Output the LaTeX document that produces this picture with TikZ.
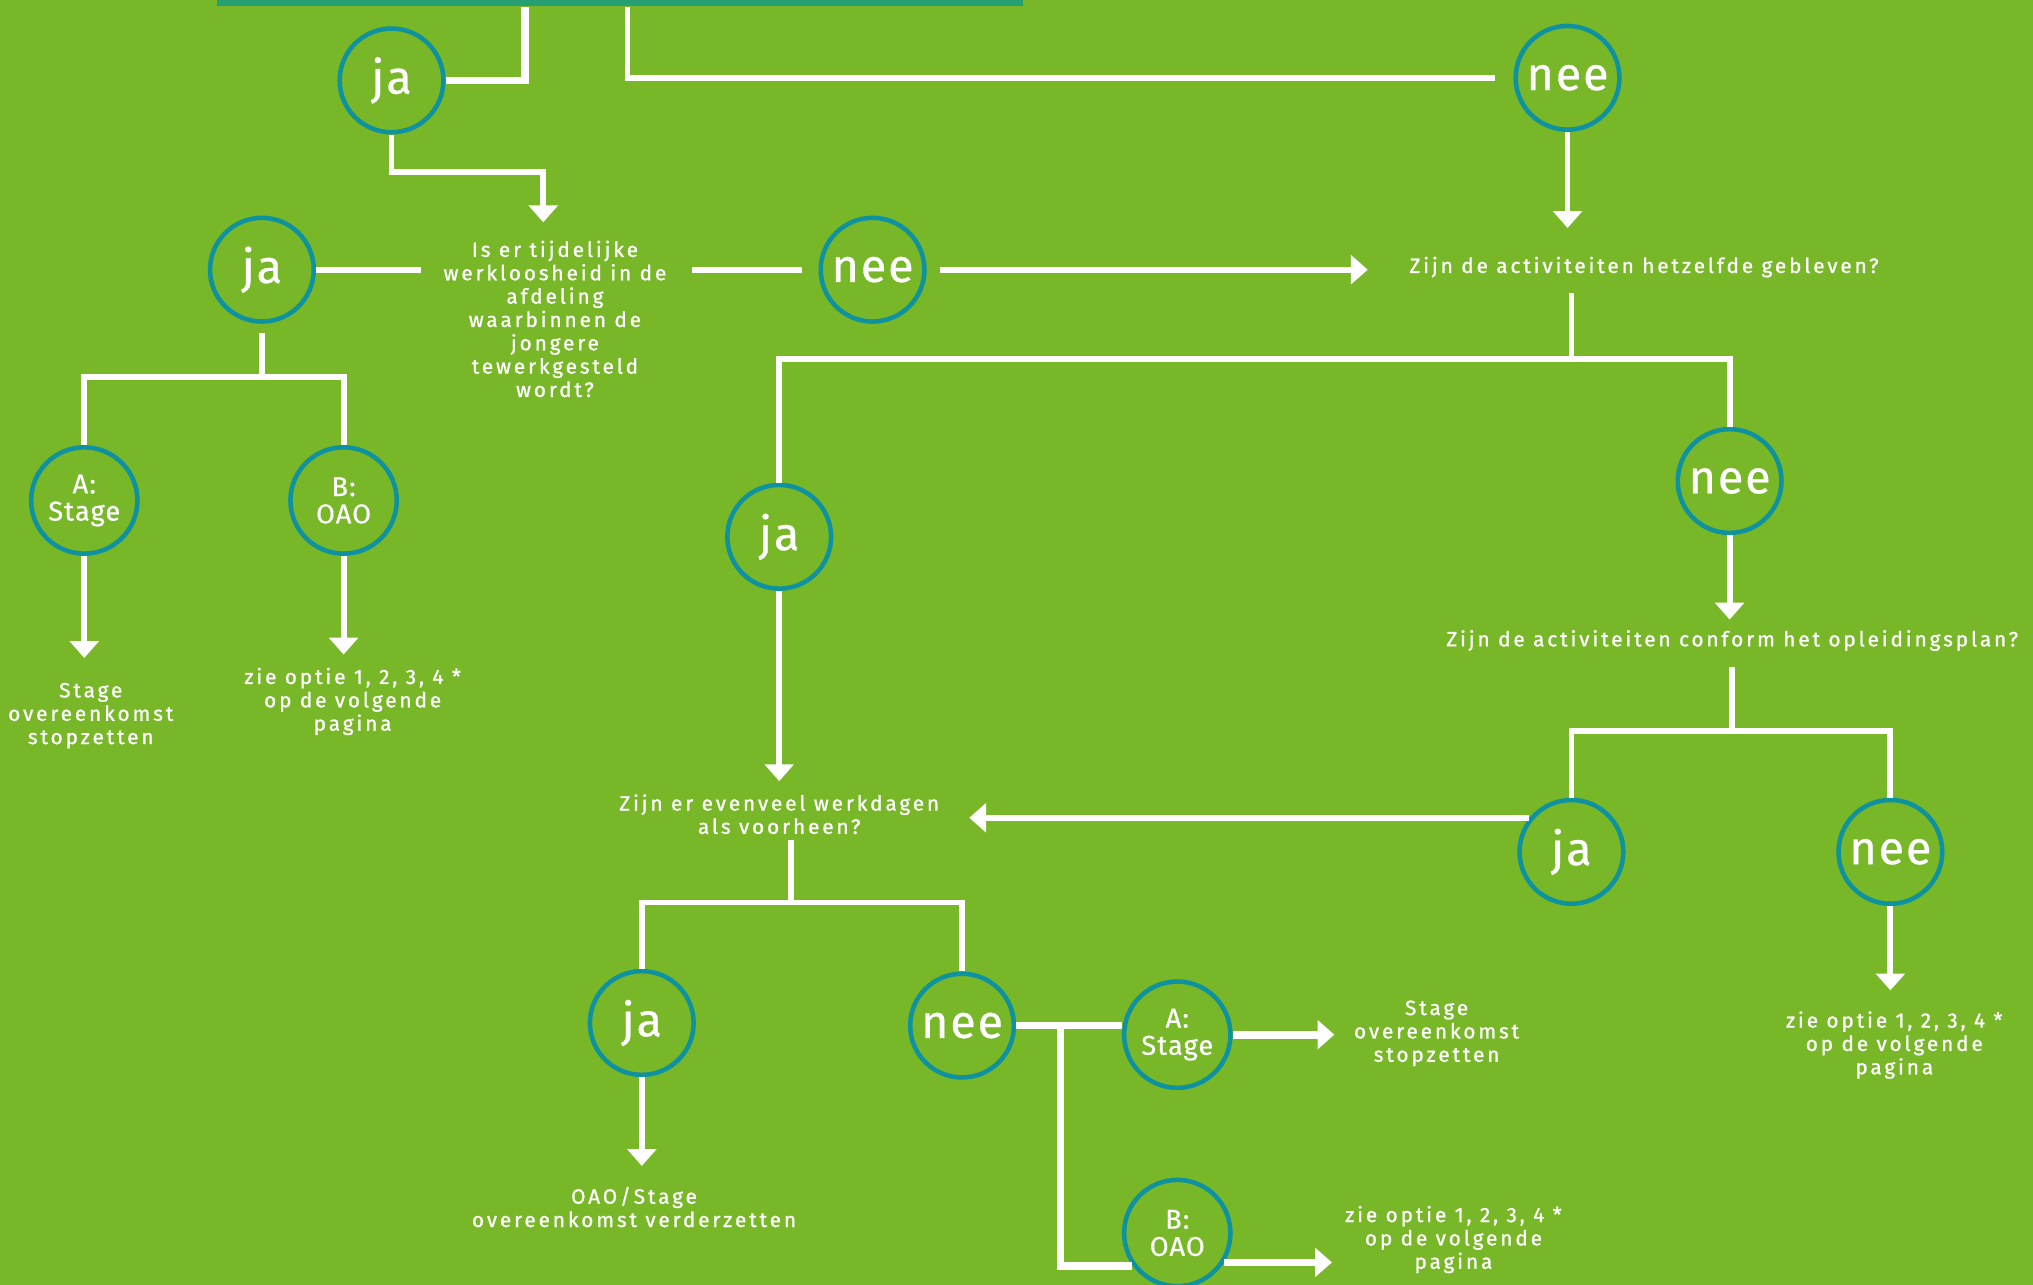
\documentclass[tikz,border=0pt]{standalone}
\usepackage{fontspec}
\setmainfont{Fira Sans}
\newfontfamily\qfont{Fira Sans}[LetterSpace=14,FakeBold=1]
\newfontfamily\cfont{Fira Sans}[LetterSpace=4,FakeBold=0.6]
\usepackage{tikz}
\usetikzlibrary{arrows.meta}
\definecolor{bggreen}{RGB}{120,183,40}
\definecolor{ringteal}{RGB}{14,146,160}
\definecolor{barteal}{RGB}{38,160,115}
\tikzset{answer/.style={circle,draw=ringteal,line width=3.5pt,minimum size=80pt,inner sep=0pt,
        text=white,font=\cfont\fontsize{36}{36}\selectfont},
    option/.style={answer,minimum size=82pt,align=center,font=\cfont\fontsize{21}{21}\selectfont},
    question/.style={text=white,align=center,inner sep=0pt,font=\qfont\fontsize{16}{18}\selectfont},
    link/.style={draw=white,line width=4.5pt},
    thick link/.style={link,line width=6pt},
    arrow/.style={link,-{Triangle[width=22pt,length=13pt]}}}

\begin{document}
\begin{tikzpicture}[x=1pt,y=-1pt]
\fill[bggreen] (0,0) rectangle (1568,991);
\useasboundingbox (0,0) rectangle (1568,991);
\node[fill=barteal,minimum width=622pt,minimum height=6pt,inner sep=0pt] (bar) at (478,2) {};

% answers
\node[answer] (ja1) at (302,62) {ja};
\node[answer] (nee1) at (1209,60) {nee};
\node[answer] (ja2) at (202,208) {ja};
\node[answer] (nee2) at (673,208) {nee};
\node[option] (a1) at (65,386) {A:\\Stage};
\node[option] (b1) at (265,386) {B:\\OAO};
\node[answer] (ja3) at (601,414) {ja};
\node[answer] (nee3) at (1334,371) {nee};
\node[answer] (ja4) at (1212,657) {ja};
\node[answer] (nee4) at (1458,657) {nee};
\node[answer] (ja5) at (495,789) {ja};
\node[answer] (nee5) at (742,791) {nee};
\node[option] (a2) at (908,798) {A:\\Stage};
\node[option] (b2) at (908,951) {B:\\OAO};

% questions and outcomes
\node[question] (q1) at (428,246) {Is er tijdelijke\\werkloosheid in de\\afdeling\\waarbinnen de\\jongere\\tewerkgesteld\\wordt?};
\node[question] (q2) at (1268,206) {Zijn de activiteiten hetzelfde gebleven?};
\node[question] (q3) at (601,628) {Zijn er evenveel werkdagen\\als voorheen?};
\node[question] (q4) at (1336,494) {Zijn de activiteiten conform het opleidingsplan?};
\node[question] (t1) at (70,552) {Stage\\overeenkomst\\stopzetten};
\node[question] (t2) at (272,541) {zie optie 1, 2, 3, 4 *\\op de volgende\\pagina};
\node[question] (t3) at (1461,806) {zie optie 1, 2, 3, 4 *\\op de volgende\\pagina};
\node[question] (t4) at (489,931) {OAO/Stage\\overeenkomst verderzetten};
\node[question] (t5) at (1108,797) {Stage\\overeenkomst\\stopzetten};
\node[question] (t6) at (1121,956) {zie optie 1, 2, 3, 4 *\\op de volgende\\pagina};

\coordinate (s1) at (205,291);
\coordinate (s2) at (1212,277);
\coordinate (s3) at (610,696);
\coordinate (s4) at (1336,564);
\coordinate (s5) at (818,793);

\draw[thick link] (ja1.east) -| ([xshift=-73pt]bar.south);
\draw[link,shorten >=14pt] ([xshift=6pt]bar.south) |- (nee1.west);
\draw[arrow,shorten >=14pt] (ja1.south) -- ++(0,29) -| ([xshift=-9pt]q1.north);
\draw[link,shorten >=17pt] (ja2.east) -- (ja2.east -| q1.west);
\draw[link,shorten <=20pt,shorten >=13pt] (nee2.west -| q1.east) -- (nee2.west);
\draw[arrow,shorten <=10pt,shorten >=32pt] (nee2.east) -- (nee2.east -| q2.west);
\draw[arrow,shorten >=22pt] (nee1.south) -- (nee1.south |- q2.north);

\draw[link] ([yshift=-7pt]ja2.south) -- (ja2.south |- s1);
\draw[link] (a1.north) |- (s1) -| (b1.north);
\draw[arrow,shorten >=19pt] (a1.south) -- (a1.south |- t1.north);
\draw[arrow,shorten >=10pt] (b1.south) -- (b1.south |- t2.north);

\draw[link] ([yshift=-12pt]q2.south -| s2) -- (s2);
\draw[link] (ja3.north) |- (s2) -| (nee3.north);
\draw[arrow,shorten >=10pt] (ja3.south) -- (ja3.south |- q3.north);
\draw[arrow,shorten >=8pt] (nee3.south) -- (nee3.south |- q4.north);

\draw[link] ([yshift=-12pt]q4.south) -- (s4);
\draw[link] (ja4.north) |- (s4) -| (nee4.north);
\draw[arrow,shorten >=23pt] (ja4.141) -- (ja4.141 -| q3.east);
\draw[arrow,shorten >=16pt] (nee4.south) -- (nee4.south |- t3.north);

\draw[link] ([yshift=-4pt]q3.south -| s3) -- (s3);
\draw[link] (ja5.north) |- (s3) -| (nee5.north);
\draw[arrow,shorten >=16pt] (ja5.south) -- (ja5.south |- t4.north);
\draw[thick link] (nee5.east) -- (nee5.east -| a2.west);
\draw[thick link] (nee5.east -| s5) |- (b2.216);
\draw[arrow,line width=6pt,shorten >=15pt] (a2.east) -- (a2.east -| t5.west);
\draw[arrow,line width=6pt,shorten >=10pt] (b2.-32) -- (b2.-32 -| t6.west);
\end{tikzpicture}
\end{document}
